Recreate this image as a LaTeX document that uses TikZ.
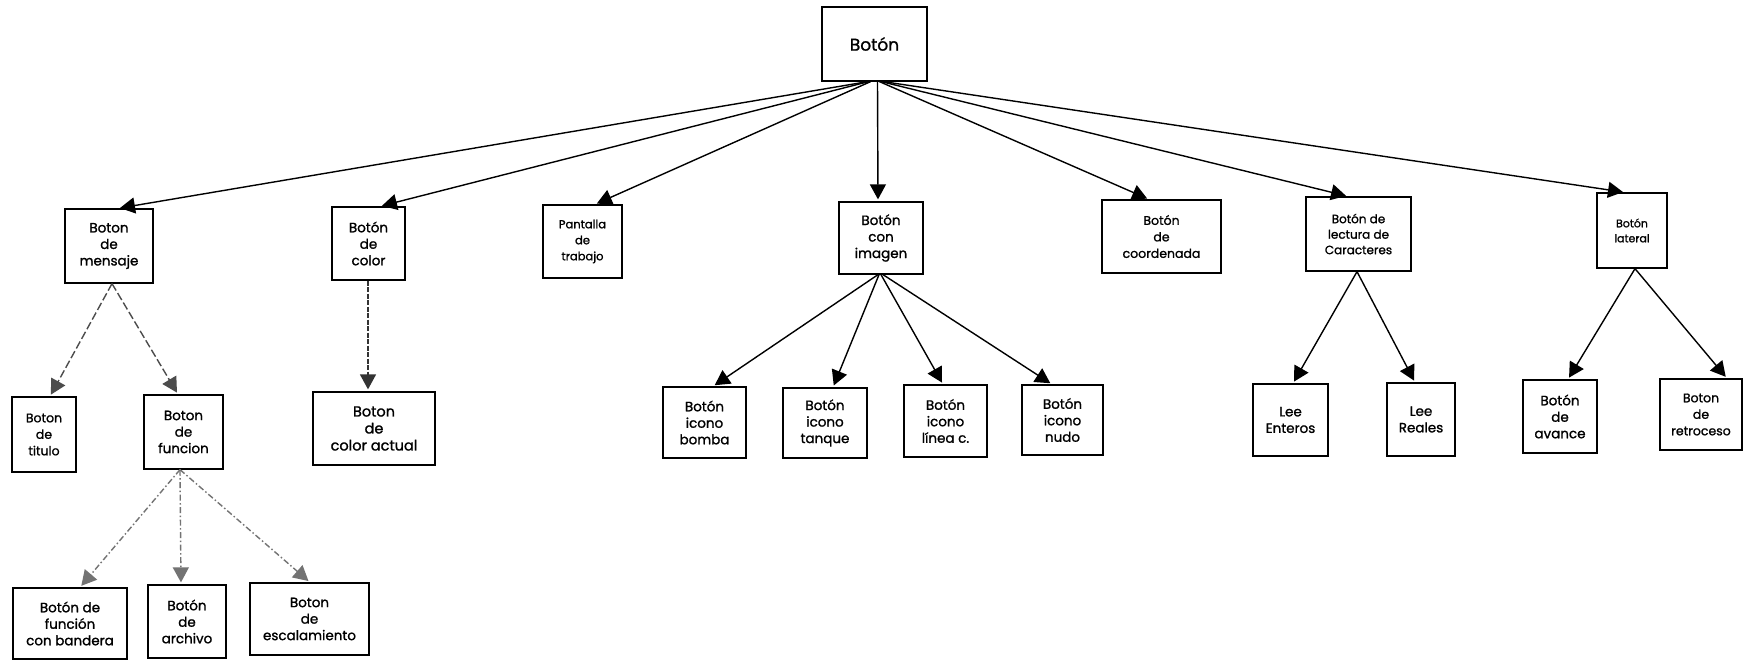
\documentclass[tikz,border=0pt]{standalone}
\usepackage{fontspec}
\setmainfont{Poppins}
\newfontfamily\lblfont{Poppins}[FakeBold=1.2]
\usetikzlibrary{arrows.meta}
\newcommand{\fs}[2]{\lblfont\fontsize{#1}{#2}\selectfont}
\begin{document}
\begin{tikzpicture}[x=1pt,y=-1pt,
  box/.style={draw=black, line width=1.3pt, inner sep=0pt, align=center,
    font=\fs{13.5}{16.5}},
  link/.style={draw=black, line width=1.4pt,
    -{Triangle[length=15pt,width=16pt]}, shorten >=2pt},
  dlink/.style={link, draw=black!70, dash pattern=on 8pt off 3pt},
  clink/.style={link, draw=black!80, dash pattern=on 5pt off 1.5pt},
  ddlink/.style={link, draw=black!55, dash pattern=on 6pt off 2.5pt on 1.5pt off 2.5pt}]
\useasboundingbox (0,0) rectangle (1743,660);
\fill[white] (0,0) rectangle (1743,660);

% root
\node[box, minimum width=105pt, minimum height=74pt, font=\fs{17}{20}]
  (top) at (874.5,44) {Botón};

% first level
\node[box, minimum width=88pt,  minimum height=74pt] (mensaje)    at (109,246)    {Boton\\de\\mensaje};
\node[box, minimum width=73pt,  minimum height=73pt] (color)      at (368.5,243.5) {Botón\\de\\color};
\node[box, minimum width=79pt,  minimum height=73pt, font=\fs{11.5}{16}] (pantalla) at (582.5,241.5) {Pantalla\\de\\trabajo};
\node[box, minimum width=84pt,  minimum height=72pt] (imagen)     at (881,238)    {Botón\\con\\imagen};
\node[box, minimum width=119pt, minimum height=73pt, font=\fs{12.5}{16.5}] (coordenada) at (1161.5,236.5) {Botón\\de\\coordenada};
\node[box, minimum width=105pt, minimum height=74pt, font=\fs{12}{15.5}] (lectura) at (1358.5,234) {Botón de\\lectura de\\Caracteres};
\node[box, minimum width=70pt,  minimum height=75pt, font=\fs{11}{15}] (lateral) at (1632,230.5) {Botón\\lateral};

% second level
\node[box, minimum width=64pt,  minimum height=75pt, font=\fs{12.5}{16.5}] (titulo) at (44,434.5) {Boton\\de\\titulo};
\node[box, minimum width=79pt,  minimum height=74pt] (funcion)    at (183.5,432)  {Boton\\de\\funcion};
\node[box, minimum width=122pt, minimum height=73pt, font=\fs{14.5}{17}] (actual) at (374,428.5) {Boton\\de\\color actual};
\node[box, minimum width=83pt,  minimum height=71pt] (bomba)      at (704.5,422.5) {Botón\\icono\\bomba};
\node[box, minimum width=84pt,  minimum height=70pt] (tanque)     at (825,423)    {Botón\\icono\\tanque};
\node[box, minimum width=83pt,  minimum height=72pt] (linea)      at (945.5,421)  {Botón\\icono\\línea c.};
\node[box, minimum width=81pt,  minimum height=70pt] (nudo)       at (1062.5,420) {Botón\\icono\\nudo};
\node[box, minimum width=75pt,  minimum height=72pt] (enteros)    at (1290.5,420) {Lee\\Enteros};
\node[box, minimum width=68pt,  minimum height=73pt] (reales)     at (1421,419.5) {Lee\\Reales};
\node[box, minimum width=74pt,  minimum height=73pt] (avance)     at (1560,416.5) {Botón\\de\\avance};
\node[box, minimum width=82pt,  minimum height=71pt, font=\fs{12.5}{16.5}] (retroceso) at (1701,414.5) {Boton\\de\\retroceso};

% third level
\node[box, minimum width=114pt, minimum height=71pt] (bandera)    at (70,623.5)   {Botón de\\función\\con bandera};
\node[box, minimum width=78pt,  minimum height=73pt] (archivo)    at (187,621.5)  {Botón\\de\\archivo};
\node[box, minimum width=119pt, minimum height=72pt] (escala)     at (309.5,619)  {Boton\\de\\escalamiento};

% connectors from the root
\draw[link] ([xshift=-7pt]top.south) -- ([xshift=9pt]mensaje.north);
\draw[link] ([xshift=-6pt]top.south) -- ([xshift=11.5pt]color.north);
\draw[link] ([xshift=-4pt]top.south) -- ([xshift=12.5pt]pantalla.north);
\draw[link] ([xshift=3pt]top.south)  -- ([xshift=-3pt]imagen.north);
\draw[link] ([xshift=5pt]top.south)  -- ([xshift=-12.5pt]coordenada.north);
\draw[link] ([xshift=7pt]top.south)  -- ([xshift=-10.5pt]lectura.north);
\draw[link] ([xshift=9pt]top.south)  -- ([xshift=-7pt]lateral.north);

% connectors below the first level
\draw[dlink] ([xshift=3pt]mensaje.south) -- ([xshift=6pt]titulo.north);
\draw[dlink] ([xshift=3pt]mensaje.south) -- ([xshift=-5.5pt]funcion.north);
\draw[clink] ([xshift=-0.5pt]color.south) -- ([xshift=-6pt]actual.north);
\draw[link] ([xshift=-3pt]imagen.south) -- ([xshift=8.5pt]bomba.north);
\draw[link] ([xshift=-2pt]imagen.south) -- ([xshift=8pt]tanque.north);
\draw[link] ([xshift=0pt]imagen.south)  -- ([xshift=-2.5pt]linea.north);
\draw[link] ([xshift=2pt]imagen.south)  -- ([xshift=-10.5pt]nudo.north);
\draw[link] ([xshift=-1.5pt]lectura.south) -- ([xshift=2.5pt]enteros.north);
\draw[link] ([xshift=-1.5pt]lectura.south) -- ([xshift=-6pt]reales.north);
\draw[link] ([xshift=3pt]lateral.south) -- ([xshift=8pt]avance.north);
\draw[link] ([xshift=3pt]lateral.south) -- ([xshift=26pt]retroceso.north);

% connectors below the second level
\draw[ddlink] ([xshift=-3.5pt]funcion.south) -- ([xshift=10pt]bandera.north);
\draw[ddlink] ([xshift=-3.5pt]funcion.south) -- ([xshift=-6pt]archivo.north);
\draw[ddlink] ([xshift=-3.5pt]funcion.south) -- ([xshift=0.5pt]escala.north);
\end{tikzpicture}
\end{document}
